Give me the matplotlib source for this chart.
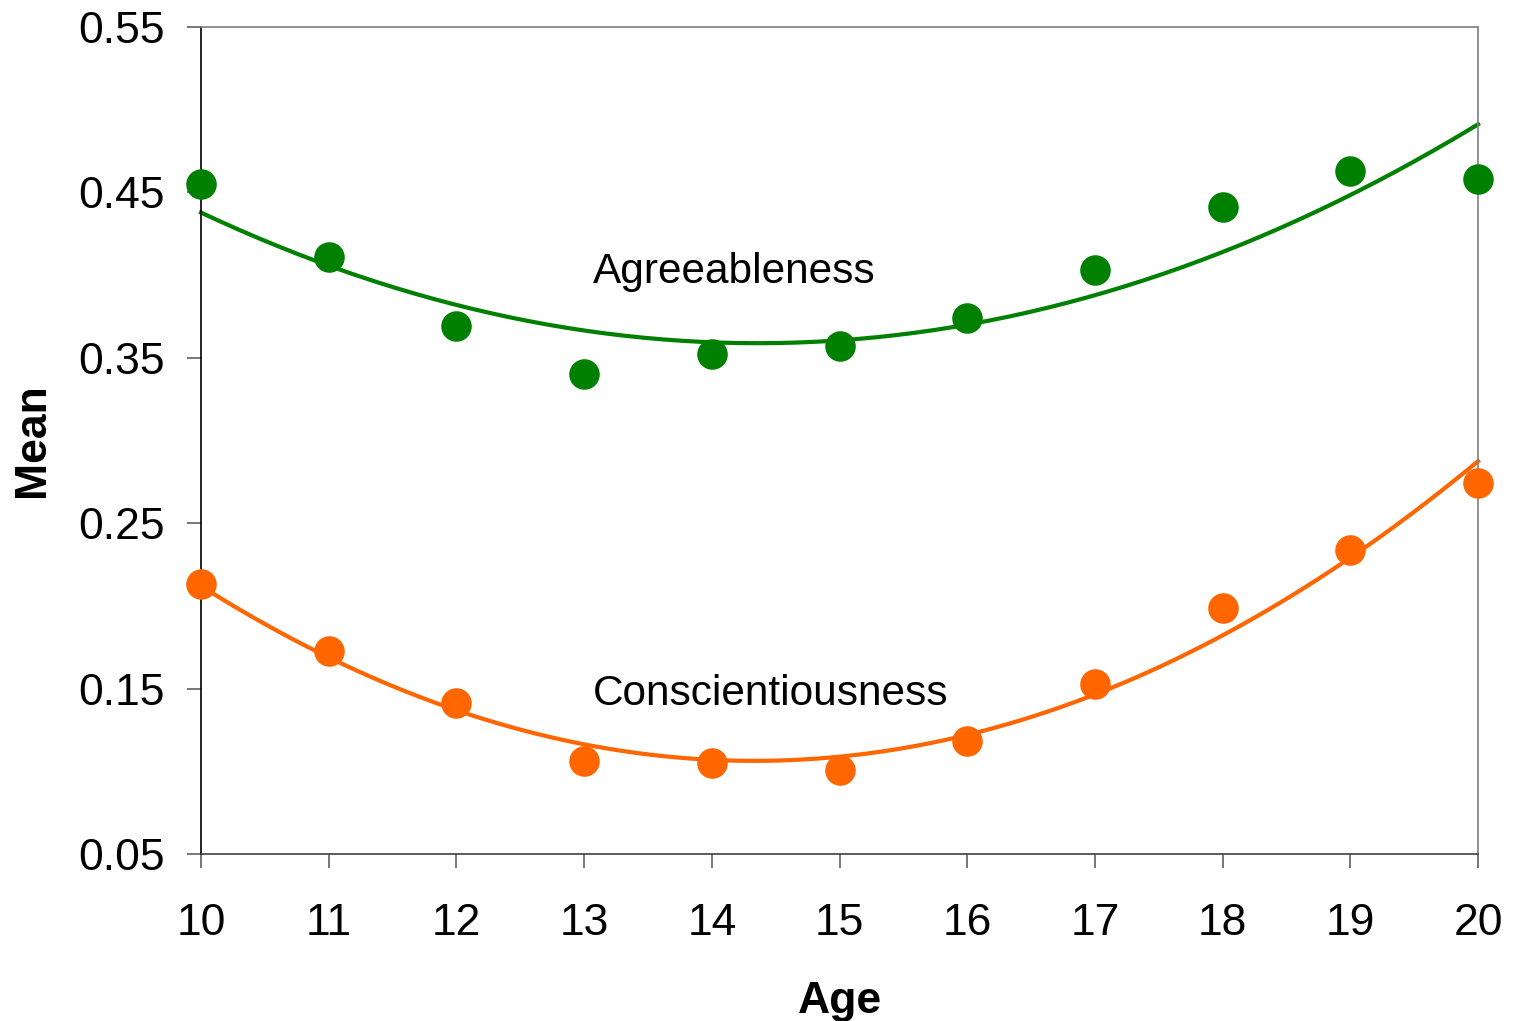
import numpy as np
import matplotlib
matplotlib.use("Agg")
import matplotlib.pyplot as plt

plt.rcParams["font.family"] = ["Liberation Sans", "DejaVu Sans"]

ages = [10, 11, 12, 13, 14, 15, 16, 17, 18, 19, 20]
agreeableness = [0.455, 0.411, 0.369, 0.340, 0.352, 0.357, 0.374, 0.403, 0.441, 0.463, 0.458]
conscientiousness = [0.213, 0.173, 0.141, 0.106, 0.105, 0.101, 0.118, 0.153, 0.199, 0.234, 0.274]

green = "#008000"
orange = "#FF6600"

fig = plt.figure(figsize=(15.23, 10.21), dpi=100)
ax = fig.add_axes([0.132, 0.1636, 0.8385, 0.81])

xs = np.linspace(10, 20, 200)
for vals, col in [(agreeableness, green), (conscientiousness, orange)]:
    # second-order polynomial trend line
    coef = np.polyfit(ages, vals, 2)
    ax.plot(xs, np.polyval(coef, xs), color=col, lw=3.0, zorder=2, clip_on=False)
    ax.plot(ages, vals, "o", color=col, ms=22, mec="none", zorder=3, clip_on=False)

ax.text(13.07, 0.402, "Agreeableness", fontsize=30.5, va="center", ha="left")
ax.text(13.07, 0.147, "Conscientiousness", fontsize=30.5, va="center", ha="left")

ax.set_xlim(10, 20)
ax.set_ylim(0.05, 0.55)
ax.set_xticks(ages)
ax.set_yticks([0.05, 0.15, 0.25, 0.35, 0.45, 0.55])
ax.set_yticklabels(["0.05", "0.15", "0.25", "0.35", "0.45", "0.55"])

ax.spines["left"].set_color("black")
ax.spines["bottom"].set_color("#404040")
ax.spines["top"].set_color("#808080")
ax.spines["right"].set_color("#808080")
for s in ax.spines.values():
    s.set_linewidth(1.2)

ax.tick_params(axis="x", direction="out", length=10, width=1.2, color="#606060",
               labelsize=32, pad=25)
ax.tick_params(axis="y", direction="out", length=10, width=1.2, color="#606060",
               labelsize=32, pad=16)

ax.set_xlabel("Age", fontsize=32, fontweight="bold", labelpad=27)
ax.set_ylabel("Mean", fontsize=32, fontweight="bold", labelpad=18)

fig.savefig("out.png", dpi=100)
